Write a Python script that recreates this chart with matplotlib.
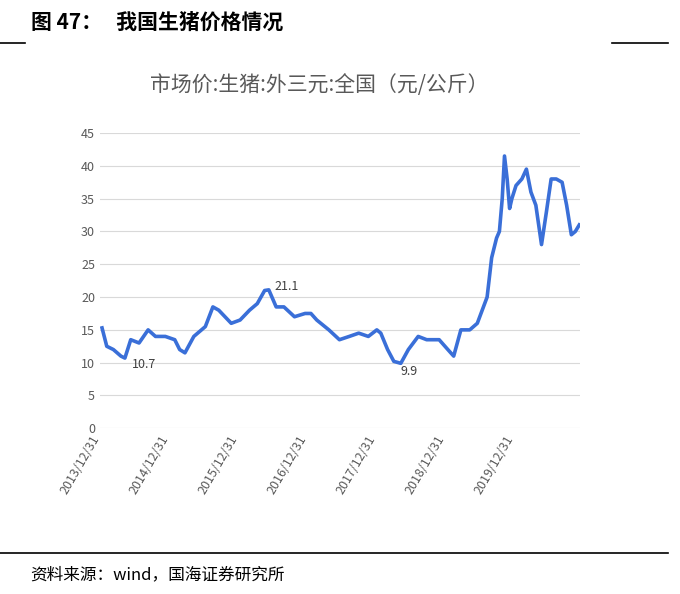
import matplotlib
matplotlib.use("Agg")
import matplotlib.pyplot as plt
from matplotlib.lines import Line2D
import pandas as pd

plt.rcParams['font.family'] = ['Noto Sans CJK SC', 'DejaVu Sans']

dates = ["2013-12-31","2014-01-25","2014-03-01","2014-04-10","2014-05-01","2014-06-01","2014-07-15",
 "2014-09-01","2014-10-10","2014-12-01","2015-01-20","2015-02-15","2015-03-15","2015-05-01","2015-07-01",
 "2015-08-10","2015-09-10","2015-11-15","2016-01-01","2016-02-20","2016-04-01","2016-05-10","2016-06-01",
 "2016-07-10","2016-08-20","2016-10-15","2016-12-10","2017-01-10","2017-02-10","2017-04-15","2017-06-10",
 "2017-08-01","2017-09-20","2017-11-10","2017-12-25","2018-01-15","2018-02-20","2018-03-25","2018-05-01",
 "2018-06-10","2018-08-01","2018-09-15","2018-11-20","2019-01-05","2019-02-05","2019-03-15","2019-05-01",
 "2019-06-10","2019-08-01","2019-08-25","2019-09-20","2019-10-05","2019-10-20","2019-11-01","2019-11-15",
 "2019-11-28","2019-12-10","2020-01-01","2020-02-01","2020-02-25","2020-03-20","2020-04-15","2020-05-15",
 "2020-06-10","2020-07-05","2020-08-01","2020-09-01","2020-09-25","2020-10-20","2020-11-10","2020-12-01"]
prices = [15.3,12.5,12.0,11.0,10.7,13.5,13.0,15.0,14.0,14.0,13.5,12.0,11.5,14.0,15.5,
 18.5,18.0,16.0,16.5,18.0,19.0,21.0,21.1,18.5,18.5,17.0,17.5,17.5,16.5,15.0,13.5,
 14.0,14.5,14.0,15.0,14.5,12.0,10.2,9.9,12.0,14.0,13.5,13.5,12.0,11.0,15.0,15.0,
 16.0,20.0,26.0,29.0,30.0,35.0,41.5,38.0,33.5,35.0,37.0,38.0,39.5,36.0,34.0,28.0,
 33.0,38.0,38.0,37.5,34.0,29.5,30.0,31.0]
tick_dates = ["2013-12-31","2014-12-31","2015-12-31","2016-12-31","2017-12-31","2018-12-31","2019-12-31"]
yticks = [0,5,10,15,20,25,30,35,40,45]
annots = [("2014-05-01",10.7,"10.7",(5,0)),("2016-06-01",21.1,"21.1",(4,-2)),("2018-05-01",9.9,"9.9",(0,-1))]

x = pd.to_datetime(dates)
fig = plt.figure(figsize=(6.8,5.94), dpi=100)
fig.text(0.045,0.962,"图 47：   我国生猪价格情况",fontsize=15,fontweight='bold',va='center')
fig.add_artist(Line2D([0,0.037],[0.927,0.927],color='black',lw=1.2))
fig.add_artist(Line2D([0.9,0.983],[0.927,0.927],color='black',lw=1.2))
fig.add_artist(Line2D([0,0.983],[0.069,0.069],color='black',lw=1.2))
fig.text(0.045,0.032,"资料来源：wind，国海证券研究所",fontsize=12,va='center')
fig.text(0.47,0.857,"市场价:生猪:外三元:全国（元/公斤）",fontsize=15,color='#595959',ha='center',va='center')

ax = fig.add_axes([0.147,0.279,0.706,0.497])
ax.plot(x,prices,color='#3A6FD8',lw=2.6)
ax.set_ylim(0,45)
ax.set_yticks(yticks)
ax.set_xlim(pd.Timestamp("2013-12-20"),pd.Timestamp("2020-12-05"))
ax.set_xticks(pd.to_datetime(tick_dates))
ax.set_xticklabels([d.replace("-","/") for d in tick_dates],rotation=60,ha='right',fontsize=9,color='#595959')
ax.tick_params(axis='y',labelsize=9,labelcolor='#595959',length=0)
ax.tick_params(axis='x',length=0)
ax.grid(axis='y',color='#d9d9d9',lw=0.8)
for s in ax.spines.values(): s.set_visible(False)
for d,v,t,off in annots:
    ax.annotate(t,(pd.Timestamp(d),v),xytext=off,textcoords='offset points',
                fontsize=9,color='#404040',va='top' if v<15 else 'bottom')
fig.savefig("out.png",dpi=100)
